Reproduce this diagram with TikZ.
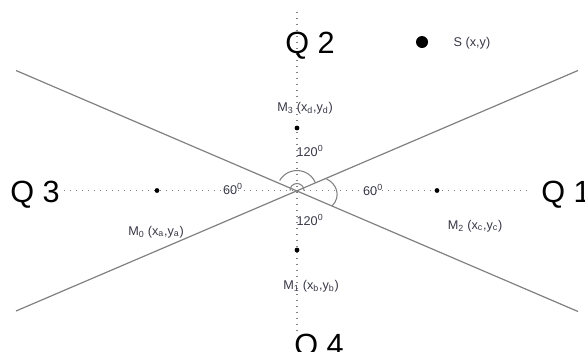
\documentclass[tikz,border=0pt]{standalone}
\usepackage{fontspec}
\setmainfont{Liberation Sans}
\definecolor{linegray}{RGB}{128,128,128}
\definecolor{dotgray}{RGB}{130,130,130}
\definecolor{txtgray}{RGB}{55,55,70}
\begin{document}
\begin{tikzpicture}[x=0.75pt,y=-0.75pt,
  axis/.style={dotgray,line width=1.3pt,dash pattern=on 1pt off 3.5pt},
  ray/.style={linegray,line width=0.9pt},
  pt/.style={circle,fill=black,inner sep=0pt,minimum size=3.6pt},
  bigpt/.style={circle,fill=black,inner sep=0pt,minimum size=9pt},
  quad/.style={font=\fontsize{23}{26}\selectfont,text=black,inner sep=0pt,anchor=base west},
  lbl/.style={font=\fontsize{9.5}{11}\selectfont,text=txtgray,inner sep=0pt},
  angarc/.style={linegray,line width=0.8pt}
]
\useasboundingbox (0,0) rectangle (585,351);
% coordinates
\coordinate (O) at (297,190.5);
\coordinate (TL) at (16,70.5);
\coordinate (BR) at (578,311.5);
\coordinate (BL) at (16,311);
\coordinate (TR) at (578,70.5);
\coordinate (Htop) at (297,12);
\coordinate (Hbot) at (297,331);
\coordinate (Hl) at (64,190.5);
\coordinate (Hr) at (527,190.5);
% dotted axes
\draw[axis] (Hl) -- (Hr);
\draw[axis] (Htop) -- (Hbot);
% crossing lines
\draw[ray] (TL) -- (BR);
\draw[ray] (BL) -- (TR);
% angle marks
\draw[angarc] ([shift={(0:7)}]O) arc[start angle=0,end angle=-180,radius=7];
\draw[angarc] ([shift={(-23:20)}]O) arc[start angle=-23,end angle=-150,radius=20];
\draw[angarc] (326.5,179) .. controls (336,183) and (342,196) .. (332,206);
% points
\node[pt] (M0) at (157,190.5) {};
\node[pt] (M2) at (437,190.5) {};
\node[pt] (M3) at (297,128) {};
\node[pt] (M1) at (297,250) {};
\node[bigpt] (S) at (422,42) {};
% quadrant labels
\node[quad] (Q2) at (285,53) {Q 2};
\node[quad] (Q3) at (10,202) {Q 3};
\node[quad] (Q1) at (541,202) {Q 1};
\node[quad] (Q4) at (294,355) {Q 4};
% labels
\node[lbl] (Sl) at (472,43) {S (x,y)};
\node[lbl] (M3l) at (305,108) {M\textsubscript{3} (x\textsubscript{d},y\textsubscript{d})};
\node[lbl] (M0l) at (156,232) {M\textsubscript{0} (x\textsubscript{a},y\textsubscript{a})};
\node[lbl] (M2l) at (475,226) {M\textsubscript{2} (x\textsubscript{c},y\textsubscript{c})};
\node[lbl] (M1l) at (311,286) {M\textsubscript{1} (x\textsubscript{b},y\textsubscript{b})};
\node[lbl] (a1) at (310,151) {120\textsuperscript{0}};
\node[lbl] (a2) at (310,220) {120\textsuperscript{0}};
\node[lbl] (a3) at (233,189) {60\textsuperscript{0}};
\node[lbl] (a4) at (373,190) {60\textsuperscript{0}};
\end{tikzpicture}
\end{document}
